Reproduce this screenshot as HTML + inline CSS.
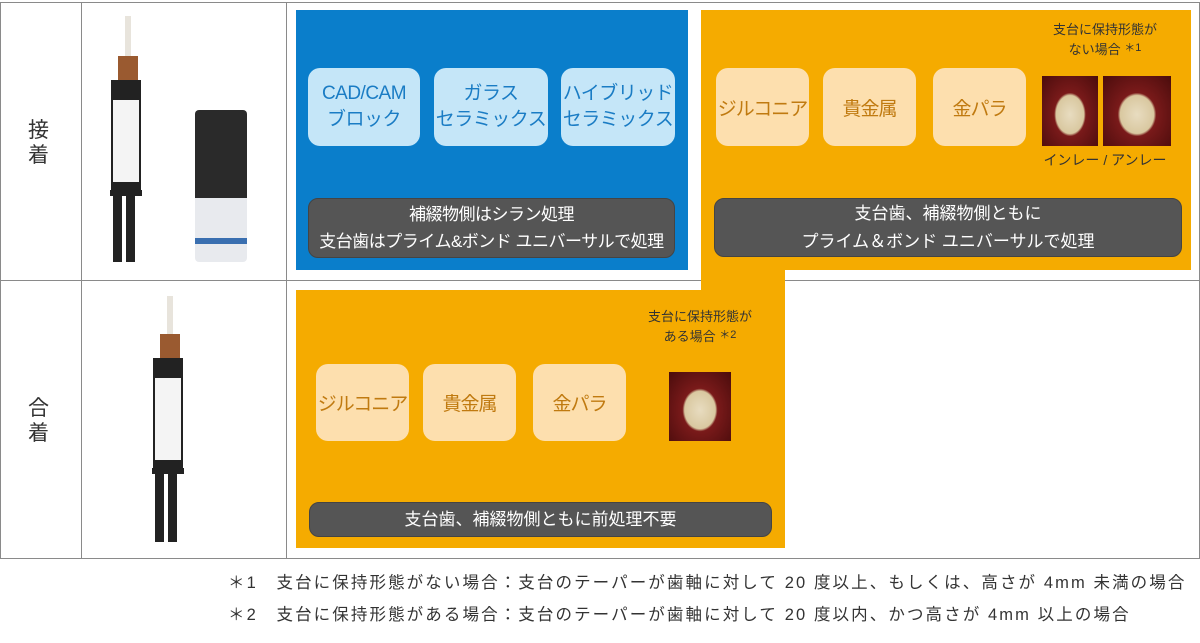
<!DOCTYPE html>
<html><head><meta charset="utf-8"><style>
body{margin:0;width:1200px;height:643px;background:#fff;position:relative;overflow:hidden;font-family:"Liberation Sans","Noto Sans CJK JP",sans-serif}
.a{position:absolute;box-sizing:border-box}
.l{background:#8a8a8a}
.lb{background:#c5e6f8;border-radius:12px;color:#1a7cc4;font-size:19px;display:flex;align-items:center;justify-content:center;text-align:center;line-height:1.35;letter-spacing:-0.5px;white-space:nowrap}
.ob{background:#fddfae;border-radius:12px;color:#c07a10;font-size:19px;display:flex;align-items:center;justify-content:center;text-align:center;white-space:nowrap;letter-spacing:-1px}
.bar{background:#555;border-radius:10px;color:#fff;font-size:17px;display:flex;align-items:center;justify-content:center;text-align:center;line-height:1.6;border:1px solid #444;white-space:nowrap}
.t{font-size:13px;color:#333;text-align:center;line-height:1.5}
.tooth{background:radial-gradient(ellipse at 50% 55%,#e8dcc0 0,#d9c8a0 35%,#7a1a1a 40%,#4a0c0c 100%)}
.f{font-size:16.5px;color:#333;white-space:nowrap;letter-spacing:2.1px}
</style></head><body>
<div class="a l" style="left:0;top:2px;width:1200px;height:1px"></div>
<div class="a l" style="left:0;top:280px;width:1200px;height:1px"></div>
<div class="a l" style="left:0;top:558px;width:1200px;height:1px"></div>
<div class="a l" style="left:0;top:2px;width:1px;height:557px"></div>
<div class="a l" style="left:81px;top:2px;width:1px;height:557px"></div>
<div class="a l" style="left:286px;top:2px;width:1px;height:557px"></div>
<div class="a l" style="left:1199px;top:2px;width:1px;height:557px"></div>
<div class="a" style="left:28px;top:118px;width:26px;font-size:21px;line-height:1.2;color:#333">接<br>着</div>
<div class="a" style="left:28px;top:396px;width:26px;font-size:21px;line-height:1.2;color:#333">合<br>着</div>
<div class="a" style="left:125px;top:16px;width:6px;height:40px;background:#e8e4dc"></div>
<div class="a" style="left:118px;top:56px;width:20px;height:28px;background:#9a5a30"></div>
<div class="a" style="left:111px;top:80px;width:30px;height:110px;background:#222"></div>
<div class="a" style="left:113px;top:100px;width:26px;height:82px;background:#f4f4f4"></div>
<div class="a" style="left:110px;top:190px;width:32px;height:6px;background:#222"></div>
<div class="a" style="left:113px;top:196px;width:9px;height:66px;background:#222"></div>
<div class="a" style="left:126px;top:196px;width:9px;height:66px;background:#222"></div>
<div class="a" style="left:195px;top:110px;width:52px;height:88px;background:#2a2a2a;border-radius:4px 4px 0 0"></div>
<div class="a" style="left:195px;top:198px;width:52px;height:64px;background:#e8eaee;border-radius:0 0 4px 4px"></div>
<div class="a" style="left:195px;top:238px;width:52px;height:6px;background:#3a6fb0"></div>
<div class="a" style="left:167px;top:296px;width:6px;height:40px;background:#e8e4dc"></div>
<div class="a" style="left:160px;top:334px;width:20px;height:28px;background:#9a5a30"></div>
<div class="a" style="left:153px;top:358px;width:30px;height:110px;background:#222"></div>
<div class="a" style="left:155px;top:378px;width:26px;height:82px;background:#f4f4f4"></div>
<div class="a" style="left:152px;top:468px;width:32px;height:6px;background:#222"></div>
<div class="a" style="left:155px;top:474px;width:9px;height:68px;background:#222"></div>
<div class="a" style="left:168px;top:474px;width:9px;height:68px;background:#222"></div>
<div class="a" style="left:296px;top:10px;width:392px;height:260px;background:#0a7ecb"></div>
<div class="a lb" style="left:308px;top:68px;width:112px;height:78px">CAD/CAM<br>ブロック</div>
<div class="a lb" style="left:434px;top:68px;width:114px;height:78px">ガラス<br>セラミックス</div>
<div class="a lb" style="left:561px;top:68px;width:114px;height:78px">ハイブリッド<br>セラミックス</div>
<div class="a bar" style="left:308px;top:198px;width:367px;height:60px;letter-spacing:-0.5px">補綴物側はシラン処理<br>支台歯はプライム&amp;ボンド ユニバーサルで処理</div>
<div class="a" style="left:701px;top:10px;width:490px;height:260px;background:#f5ab00"></div>
<div class="a" style="left:701px;top:260px;width:84px;height:40px;background:#f5ab00"></div>
<div class="a" style="left:296px;top:290px;width:489px;height:258px;background:#f5ab00"></div>
<div class="a ob" style="left:716px;top:68px;width:93px;height:78px">ジルコニア</div>
<div class="a ob" style="left:823px;top:68px;width:93px;height:78px">貴金属</div>
<div class="a ob" style="left:933px;top:68px;width:93px;height:78px">金パラ</div>
<div class="a t" style="left:1030px;top:20px;width:150px">支台に保持形態が<br>ない場合 <span style="font-size:11px;vertical-align:top">＊1</span></div>
<div class="a tooth" style="left:1042px;top:76px;width:56px;height:70px"></div>
<div class="a tooth" style="left:1103px;top:76px;width:68px;height:70px"></div>
<div class="a t" style="left:1030px;top:150px;width:150px;font-size:14px">インレー / アンレー</div>
<div class="a bar" style="left:714px;top:198px;width:468px;height:59px">支台歯、補綴物側ともに<br>プライム＆ボンド ユニバーサルで処理</div>
<div class="a ob" style="left:316px;top:364px;width:93px;height:77px">ジルコニア</div>
<div class="a ob" style="left:423px;top:364px;width:93px;height:77px">貴金属</div>
<div class="a ob" style="left:533px;top:364px;width:93px;height:77px">金パラ</div>
<div class="a t" style="left:625px;top:307px;width:150px">支台に保持形態が<br>ある場合 <span style="font-size:11px;vertical-align:top">＊2</span></div>
<div class="a tooth" style="left:669px;top:372px;width:62px;height:69px"></div>
<div class="a bar" style="left:309px;top:502px;width:463px;height:35px">支台歯、補綴物側ともに前処理不要</div>
<div class="a f" style="left:228px;top:569px">＊1　支台に保持形態がない場合：支台のテーパーが歯軸に対して 20 度以上、もしくは、高さが 4mm 未満の場合</div>
<div class="a f" style="left:228px;top:601px">＊2　支台に保持形態がある場合：支台のテーパーが歯軸に対して 20 度以内、かつ高さが 4mm 以上の場合</div>
</body></html>
